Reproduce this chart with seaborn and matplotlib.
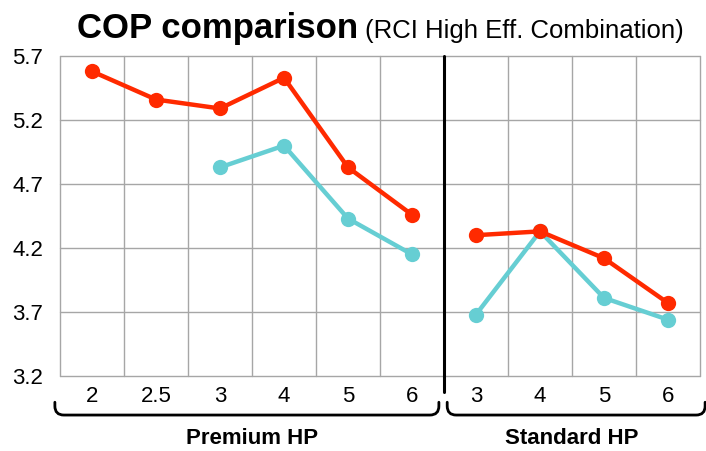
import numpy as np
import pandas as pd
import matplotlib
matplotlib.use("Agg")
import matplotlib.pyplot as plt
import matplotlib.transforms as mtransforms
from matplotlib.path import Path
from matplotlib.patches import PathPatch
import seaborn as sns

# data
groups = ["Premium HP"] * 6 + ["Standard HP"] * 4
capacities = ["2", "2.5", "3", "4", "5", "6", "3", "4", "5", "6"]
cop_red = [5.58, 5.36, 5.29, 5.53, 4.83, 4.46, 4.30, 4.33, 4.12, 3.77]
cop_cyan = [np.nan, np.nan, 4.83, 5.00, 4.43, 4.15, 3.68, 4.33, 3.81, 3.64]
yticks = [3.2, 3.7, 4.2, 4.7, 5.2, 5.7]
colors = {"red": "#ff2a00", "cyan": "#66ced3"}

sns.set_style("white")
plt.rcParams["font.family"] = ["Liberation Sans", "DejaVu Sans"]
plt.rcParams["text.color"] = "black"
plt.rcParams["xtick.labelcolor"] = "black"
plt.rcParams["ytick.labelcolor"] = "black"

pos = np.arange(len(capacities))
df = pd.concat([
    pd.DataFrame({"pos": pos, "group": groups, "series": "red", "cop": cop_red}),
    pd.DataFrame({"pos": pos, "group": groups, "series": "cyan", "cop": cop_cyan}),
]).dropna()

fig = plt.figure(figsize=(7.06, 4.51), dpi=100)
ax = fig.add_axes([60 / 706, 1 - 376 / 451, 640 / 706, 320 / 451])

grid_c = "#a6a6a6"
for g in ["Premium HP", "Standard HP"]:
    sub = df[df.group == g]
    sns.lineplot(data=sub, x="pos", y="cop", hue="series", hue_order=["cyan", "red"],
                 palette=colors, marker="o", markersize=11, markeredgewidth=0,
                 linewidth=3.2, legend=False, ax=ax, zorder=3)

ax.set_xlim(-0.5, len(capacities) - 0.5)
ax.set_ylim(yticks[0], yticks[-1])
ax.set_xlabel("")
ax.set_ylabel("")
for s in ax.spines.values():
    s.set_visible(False)

ax.set_yticks(yticks)
ax.set_yticklabels([f"{v:.1f}" for v in yticks])
ax.set_xticks(pos)
ax.set_xticklabels(capacities)
ax.set_xticks(np.arange(-0.5, len(capacities)), minor=True)
ax.tick_params(axis="y", length=9, width=1, color=grid_c, pad=3, labelsize=16)
ax.tick_params(axis="x", which="major", length=0, pad=7, labelsize=16)
ax.tick_params(axis="x", which="minor", length=6, width=1, color=grid_c)
ax.grid(False)
for v in yticks:
    ax.axhline(v, color=grid_c, lw=1, zorder=1, clip_on=False)
for v in np.arange(-0.5, len(capacities)):
    ax.axvline(v, color=grid_c, lw=1, zorder=1, clip_on=False)

# separator between groups
split = groups.index("Standard HP") - 0.5
ax.axvline(split, ymin=-0.05, ymax=1, color="black", lw=2.2, zorder=4, clip_on=False)

# brackets under tick labels
trans = mtransforms.blended_transform_factory(ax.transData, ax.transAxes)
ytop, ybot, rx, ry = -0.082, -0.122, 0.14, 0.028
for g in ["Premium HP", "Standard HP"]:
    idx = [i for i, gg in enumerate(groups) if gg == g]
    x0 = idx[0] - 0.58
    x1 = idx[-1] + 0.42 if g == "Premium HP" else idx[-1] + 0.58
    if g == "Standard HP":
        x0 = idx[0] - 0.45
    verts = [(x0, ytop), (x0, ybot + ry), (x0, ybot), (x0 + rx, ybot),
             (x1 - rx, ybot), (x1, ybot), (x1, ybot + ry), (x1, ytop)]
    codes = [Path.MOVETO, Path.LINETO, Path.CURVE3, Path.CURVE3,
             Path.LINETO, Path.CURVE3, Path.CURVE3, Path.LINETO]
    ax.add_patch(PathPatch(Path(verts, codes), transform=trans, fill=False,
                           lw=2, ec="black", clip_on=False, capstyle="round"))
    ax.text((idx[0] + idx[-1]) / 2, -0.195, g, transform=trans, ha="center", va="center",
            fontsize=16, fontweight="bold")

# title in two weights
t1 = fig.text(77 / 706, 1 - 38 / 451, "COP comparison", fontsize=25, fontweight="bold",
              ha="left", va="baseline")
fig.canvas.draw()
bb = t1.get_window_extent()
fig.text(bb.x1 / 706 + 7 / 706, 1 - 38 / 451, "(RCI High Eff. Combination)", fontsize=18.5,
         ha="left", va="baseline")

fig.savefig("out.png", dpi=100)
